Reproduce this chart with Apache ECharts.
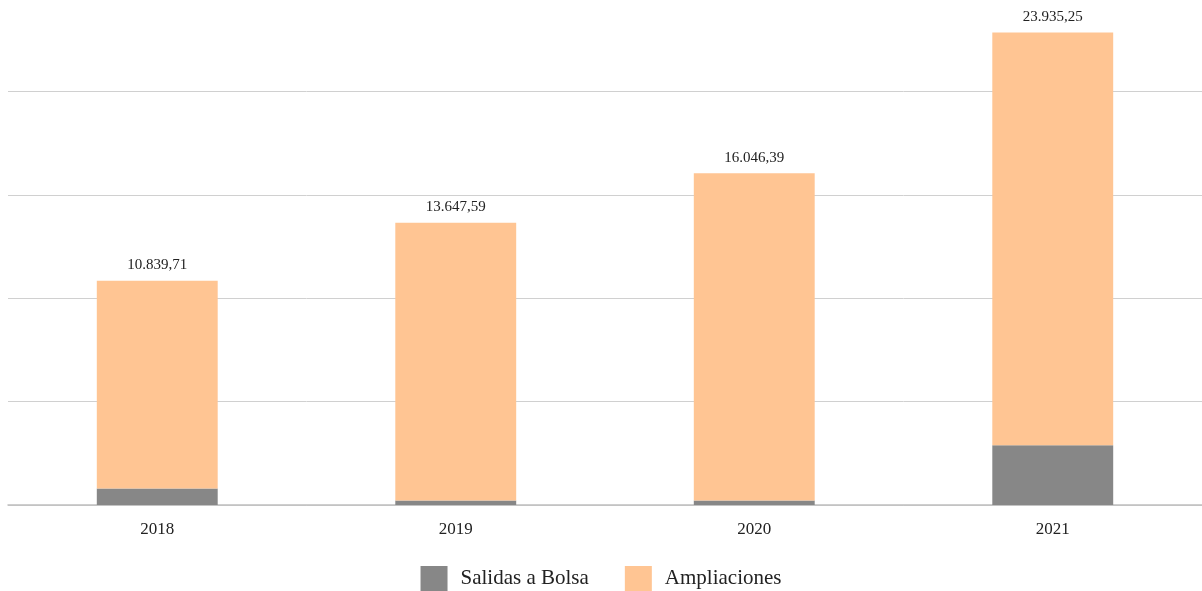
<!DOCTYPE html>
<html>
<head>
<meta charset="utf-8">
<script src="https://cdn.jsdelivr.net/npm/echarts@6/dist/echarts.min.js"></script>
<style>
  html, body { margin: 0; padding: 0; background: #fff; }
  #main { width: 1202px; height: 591px; }
</style>
</head>
<body>
<div id="main"></div>
<script>
// datos
var years = ["2018", "2019", "2020", "2021"];
var salidasBolsa = [800, 220, 220, 2890];
var ampliaciones = [10040, 13428, 15826, 19960];
var totalLabels = ["10.839,71", "13.647,59", "16.046,39", "23.935,25"];

var myChart = echarts.init(document.getElementById("main"));
var font = "'Liberation Serif', 'DejaVu Serif', serif";

myChart.setOption({
  animation: false,
  textStyle: { fontFamily: font },
  grid: {
    left: 8,
    right: 0,
    top: 0,
    bottom: 86,
    containLabel: false,
  },
  legend: {
    data: ["Salidas a Bolsa", "Ampliaciones"],
    bottom: 0,
    padding: 0,
    left: "center",
    itemWidth: 27,
    itemHeight: 25,
    itemGap: 36,
    icon: "rect",
    textStyle: {
      fontFamily: font,
      fontSize: 21,
      color: "#222",
      padding: [0, 0, 0, 8],
    },
  },
  xAxis: {
    type: "category",
    data: years,
    axisLine: { lineStyle: { color: "#bfbfbf", width: 1.5 } },
    axisTick: { show: false },
    axisLabel: {
      fontFamily: font,
      fontSize: 17,
      color: "#222",
      margin: 16,
    },
  },
  yAxis: {
    type: "value",
    min: 0,
    max: 24420,
    interval: 5000,
    axisLabel: { show: false },
    axisLine: { show: false },
    axisTick: { show: false },
    splitLine: { showMaxLine: false, lineStyle: { color: "#d0d0d0", width: 1 } },
  },
  series: [
    {
      name: "Salidas a Bolsa",
      type: "bar",
      stack: "total",
      barWidth: "40.5%",
      itemStyle: { color: "#878787" },
      data: salidasBolsa,
    },
    {
      name: "Ampliaciones",
      type: "bar",
      stack: "total",
      barWidth: "40.5%",
      itemStyle: { color: "#ffc593" },
      label: {
        show: true,
        position: "top",
        distance: 8,
        fontFamily: font,
        fontSize: 15,
        color: "#222",
        formatter: function (p) {
          return totalLabels[p.dataIndex];
        },
      },
      data: ampliaciones,
    },
  ],
});
</script>
</body>
</html>
